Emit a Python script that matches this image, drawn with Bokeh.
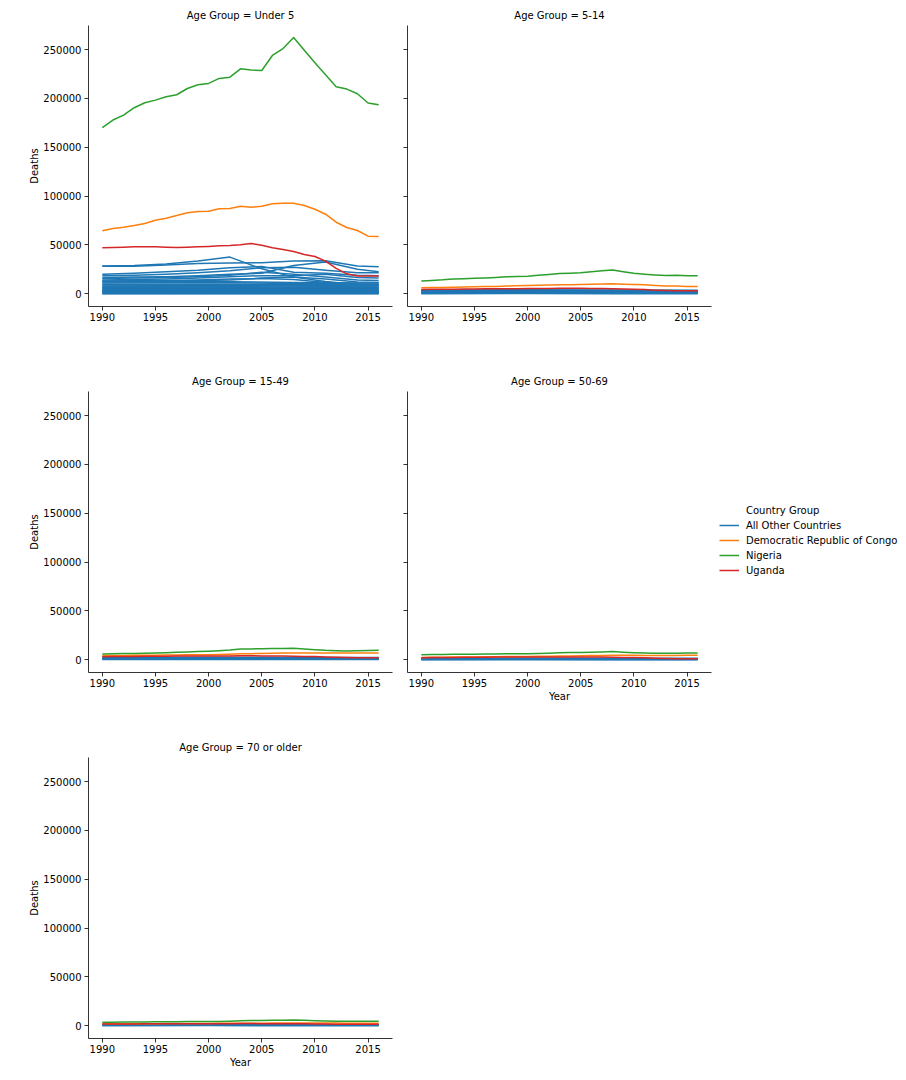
from bokeh.plotting import figure
from bokeh.layouts import column, row
from bokeh.models import (Range1d, FixedTicker, NumeralTickFormatter, CustomJSTickFormatter,
                          Legend, LegendItem)
from bokeh.embed import file_html
from bokeh.resources import INLINE

# ---------------- data ----------------
YEARS = [1990, 1991, 1992, 1993, 1994, 1995, 1996, 1997, 1998, 1999, 2000, 2001, 2002,
         2003, 2004, 2005, 2006, 2007, 2008, 2009, 2010, 2011, 2012, 2013, 2014, 2015, 2016]
KEY_YEARS = [1990, 1993, 1996, 1999, 2002, 2005, 2008, 2011, 2014, 2016]
BAND_YEARS = [1990, 2000, 2008, 2016]

AGE_GROUPS = ["Under 5", "5-14", "15-49", "50-69", "70 or older"]
COUNTRY_GROUPS = ["All Other Countries", "Democratic Republic of Congo", "Nigeria", "Uganda"]
COLORS = ["#1f77b4", "#ff7f0e", "#2ca02c", "#d62728"]
X_TICKS = [1990, 1995, 2000, 2005, 2010, 2015]
Y_TICKS = [0, 50000, 100000, 150000, 200000, 250000]

# Under 5
NGA_U5 = [170000, 177800, 182900, 190400, 195500, 198200, 201600, 203700, 210100, 213900, 215300,
          220400, 221700, 230200, 228900, 228500, 243900, 251000, 262300, 249300, 236400, 224100,
          211900, 209500, 204700, 195200, 193500]
COD_U5 = [64400, 66800, 68100, 69800, 71900, 75300, 77300, 80000, 82800, 84100, 84500, 86900, 87200,
          89600, 88600, 89600, 92000, 92600, 92600, 90300, 86500, 81400, 73200, 67800, 64700, 58900, 58600]
UGA_U5 = [47000, 47300, 47700, 48000, 48000, 48000, 47700, 47300, 47700, 48000, 48400, 49000, 49400,
          50100, 51400, 49700, 47000, 45300, 43300, 40200, 38100, 33400, 25900, 20400, 18100, 18100, 18100]
OTHER_U5_MAIN = [
    [28500, 28800, 30500, 33500, 37500, 25500, 17000, 12500, 9500, 9000],
    [28000, 28200, 29500, 31000, 31500, 31800, 33500, 33800, 28500, 27500],
    [20000, 21000, 22500, 24000, 26500, 28000, 22000, 21000, 19000, 18500],
    [18500, 19000, 20000, 21500, 23500, 26500, 27000, 24000, 21500, 21500],
    [16500, 17000, 17500, 18500, 20000, 21000, 29000, 32500, 25000, 22500],
    [15500, 16000, 16500, 17500, 19000, 22000, 20000, 17000, 14000, 13500],
    [14000, 14500, 15000, 16000, 17500, 18500, 18500, 20000, 16500, 16000],
    [13000, 13200, 13500, 14000, 15000, 15500, 14500, 11500, 9500, 9000],
    [12500, 12800, 13000, 13500, 14000, 16000, 17000, 15000, 12000, 11500],
]
OTHER_U5_BAND = [
    [12000, 12500, 11500, 11000], [11000, 11500, 10500, 10000], [9800, 10000, 9500, 9000],
    [9000, 9200, 8500, 8000], [8000, 8500, 7800, 7000], [7200, 7500, 7000, 6500],
    [6500, 6800, 6200, 6000], [5800, 6000, 5500, 5200], [5000, 5200, 4800, 4500],
    [4300, 4500, 4200, 4000], [3600, 3800, 3500, 3300], [3000, 3100, 2900, 2700],
    [2400, 2500, 2300, 2100], [1800, 1900, 1700, 1600], [1200, 1300, 1100, 1000],
    [700, 750, 650, 600], [300, 320, 280, 250], [80, 90, 70, 60],
]

# 5-14
NGA_514 = [13000, 13500, 14200, 15200, 15400, 15800, 16200, 16700, 17300, 17700, 18000, 18800, 19800,
           20700, 21000, 21400, 22500, 23400, 24400, 22600, 21000, 20000, 19200, 18600, 18800, 18400, 18300]
COD_514 = [6100, 6300, 6500, 6700, 6900, 7100, 7300, 7500, 7800, 8100, 8400, 8700, 8900, 9200, 9300,
           9500, 9800, 10000, 10100, 9800, 9500, 9100, 8500, 8000, 7900, 7500, 7400]
UGA_514 = [4400, 4500, 4600, 4700, 4800, 4900, 5000, 5000, 5100, 5200, 5300, 5400, 5400, 5500, 5600,
           5500, 5400, 5300, 5200, 4900, 4600, 4200, 3600, 3200, 3000, 3000, 3000]
OTHER_514_BAND = [
    [3900, 4000, 3800, 3500], [3300, 3400, 3200, 3000], [2700, 2800, 2600, 2400],
    [2100, 2200, 2000, 1900], [1500, 1600, 1500, 1400], [1000, 1050, 950, 900],
    [500, 520, 480, 450], [100, 110, 90, 80],
]

# 15-49
NGA_1549 = [5900, 6100, 6300, 6500, 6700, 6900, 7200, 7600, 8000, 8400, 8800, 9300, 10000, 11000,
            11100, 11200, 11400, 11600, 11800, 11000, 10200, 9600, 9300, 9000, 9100, 9400, 9700]
COD_1549 = [4200, 4300, 4400, 4500, 4600, 4700, 4800, 4900, 5000, 5100, 5200, 5400, 5700, 6000, 6200,
            6400, 6600, 6800, 6900, 6900, 6900, 6900, 6900, 6800, 6800, 6900, 6900]
UGA_1549 = [3100, 3200, 3300, 3400, 3500, 3600, 3600, 3700, 3700, 3800, 3800, 3900, 3900, 4000, 4000,
            3900, 3800, 3700, 3600, 3400, 3200, 2900, 2500, 2200, 2100, 2100, 2100]
OTHER_1549_BAND = [
    [2500, 2600, 2400, 2200], [2000, 2100, 1900, 1800], [1500, 1600, 1500, 1400],
    [1000, 1050, 950, 900], [600, 620, 580, 550], [200, 210, 190, 180],
]

# 50-69
NGA_5069 = [5200, 5300, 5400, 5500, 5600, 5700, 5800, 5900, 6000, 6100, 6200, 6400, 6700, 7100, 7300,
            7400, 7600, 7900, 8300, 7700, 7200, 6900, 6700, 6600, 6700, 6800, 6900]
COD_5069 = [2400, 2500, 2600, 2700, 2800, 2900, 3000, 3100, 3200, 3300, 3400, 3500, 3600, 3800, 3900,
            4000, 4200, 4400, 4500, 4500, 4500, 4400, 4400, 4400, 4400, 4500, 4500]
UGA_5069 = [2100, 2200, 2300, 2400, 2500, 2600, 2600, 2700, 2700, 2800, 2800, 2800, 2900, 2900, 2900,
            2800, 2800, 2700, 2600, 2400, 2200, 1900, 1500, 1200, 1100, 1000, 1000]
OTHER_5069_BAND = [
    [1500, 1600, 1500, 1400], [1100, 1150, 1050, 1000], [700, 750, 680, 650],
    [350, 370, 330, 300], [80, 90, 70, 60],
]

# 70 or older
NGA_70 = [3500, 3600, 3700, 3800, 3900, 4000, 4100, 4100, 4200, 4200, 4200, 4400, 4700, 5200, 5300,
          5400, 5500, 5700, 5900, 5500, 5100, 4900, 4700, 4600, 4500, 4500, 4500]
COD_70 = [1900, 1950, 2000, 2050, 2100, 2150, 2200, 2250, 2300, 2350, 2400, 2450, 2500, 2550, 2600,
          2650, 2700, 2750, 2800, 2800, 2800, 2750, 2700, 2650, 2600, 2600, 2600]
UGA_70 = [1700, 1750, 1800, 1850, 1900, 1950, 2000, 2000, 2050, 2100, 2100, 2150, 2150, 2200, 2200,
          2150, 2100, 2050, 2000, 1900, 1800, 1700, 1550, 1450, 1400, 1400, 1400]
OTHER_70_BAND = [
    [1000, 1050, 1000, 950], [700, 730, 690, 650], [400, 420, 390, 370], [100, 110, 95, 90],
]

PANELS = {
    "Under 5": (OTHER_U5_MAIN, OTHER_U5_BAND, COD_U5, NGA_U5, UGA_U5),
    "5-14": ([], OTHER_514_BAND, COD_514, NGA_514, UGA_514),
    "15-49": ([], OTHER_1549_BAND, COD_1549, NGA_1549, UGA_1549),
    "50-69": ([], OTHER_5069_BAND, COD_5069, NGA_5069, UGA_5069),
    "70 or older": ([], OTHER_70_BAND, COD_70, NGA_70, UGA_70),
}

# ---------------- figure ----------------
FONT = "DejaVu Sans"
x_range = Range1d(1988.7, 2017.3)
y_range = Range1d(-13075, 274575)


def make_panel(age, left_col, x_label, bottom_border, right_border):
    p = figure(frame_width=304, frame_height=281, x_range=x_range, y_range=y_range,
               output_backend="svg", toolbar_location=None,
               min_border_left=88 if left_col else 8, min_border_right=right_border,
               min_border_top=25, min_border_bottom=bottom_border)
    p.title.text = "Age Group = " + age
    p.title.align = "center"
    p.title.text_font = FONT
    p.title.text_font_size = "10px"
    p.title.text_font_style = "normal"
    p.title.text_color = "#000000"
    p.title.standoff = 10
    p.title.offset = 0
    p.outline_line_color = None
    p.grid.visible = False
    p.background_fill_color = "white"
    p.border_fill_color = "white"

    for ax in (p.xaxis[0], p.yaxis[0]):
        ax.axis_line_color = "#000000"
        ax.axis_line_width = 0.8
        ax.major_tick_line_color = "#000000"
        ax.major_tick_line_width = 0.8
        ax.major_tick_out = 4
        ax.major_tick_in = 0
        ax.minor_tick_line_color = None
        ax.major_label_text_font = FONT
        ax.major_label_text_font_size = "10px"
        ax.major_label_text_color = "#000000"
        ax.major_label_standoff = 2
        ax.axis_label_text_font = FONT
        ax.axis_label_text_font_size = "10px"
        ax.axis_label_text_font_style = "normal"
        ax.axis_label_text_color = "#000000"
    p.xaxis.ticker = FixedTicker(ticks=X_TICKS)
    p.yaxis.ticker = FixedTicker(ticks=Y_TICKS)
    if left_col:
        p.yaxis.formatter = NumeralTickFormatter(format="0")
        p.yaxis.axis_label = "Deaths"
        p.yaxis.axis_label_standoff = 0
        p.yaxis.major_label_standoff = 3
    else:
        p.yaxis.formatter = CustomJSTickFormatter(code="return ''")
        p.yaxis.major_label_standoff = 0
    if x_label:
        p.xaxis.axis_label = "Year"
        p.xaxis.axis_label_standoff = 1

    main, band, cod, nga, uga = PANELS[age]
    xs = [KEY_YEARS for _ in main] + [BAND_YEARS for _ in band]
    ys = list(main) + list(band)
    r_other = p.multi_line(xs=xs, ys=ys, line_color=COLORS[0], line_width=1.5, line_join="round")
    r_cod = p.line(YEARS, cod, line_color=COLORS[1], line_width=1.5, line_join="round")
    r_nga = p.line(YEARS, nga, line_color=COLORS[2], line_width=1.5, line_join="round")
    r_uga = p.line(YEARS, uga, line_color=COLORS[3], line_width=1.5, line_join="round")
    return p, [r_other, r_cod, r_nga, r_uga]


f1, _ = make_panel("Under 5", True, False, 60, 7)
f2, _ = make_panel("5-14", False, False, 60, 7)
f3, _ = make_panel("15-49", True, False, 60, 7)
f4, rends = make_panel("50-69", False, True, 60, 187)
f5, _ = make_panel("70 or older", True, True, 34, 7)

r_title = f4.line(x=[], y=[], line_alpha=0)
items = [LegendItem(label="Country Group", renderers=[r_title])]
for name, r in zip(COUNTRY_GROUPS, rends):
    items.append(LegendItem(label=name, renderers=[r]))
legend = Legend(items=items, location=(8, 96), padding=0, margin=0, spacing=3,
                label_height=12, glyph_height=12, glyph_width=20, label_standoff=7,
                label_text_font=FONT, label_text_font_size="10px", label_text_color="#000000",
                border_line_color=None, background_fill_alpha=0)
f4.add_layout(legend, "right")

layout = column(row(f1, f2), row(f3, f4), row(f5))
open("out.html", "w").write(file_html(layout, INLINE))
